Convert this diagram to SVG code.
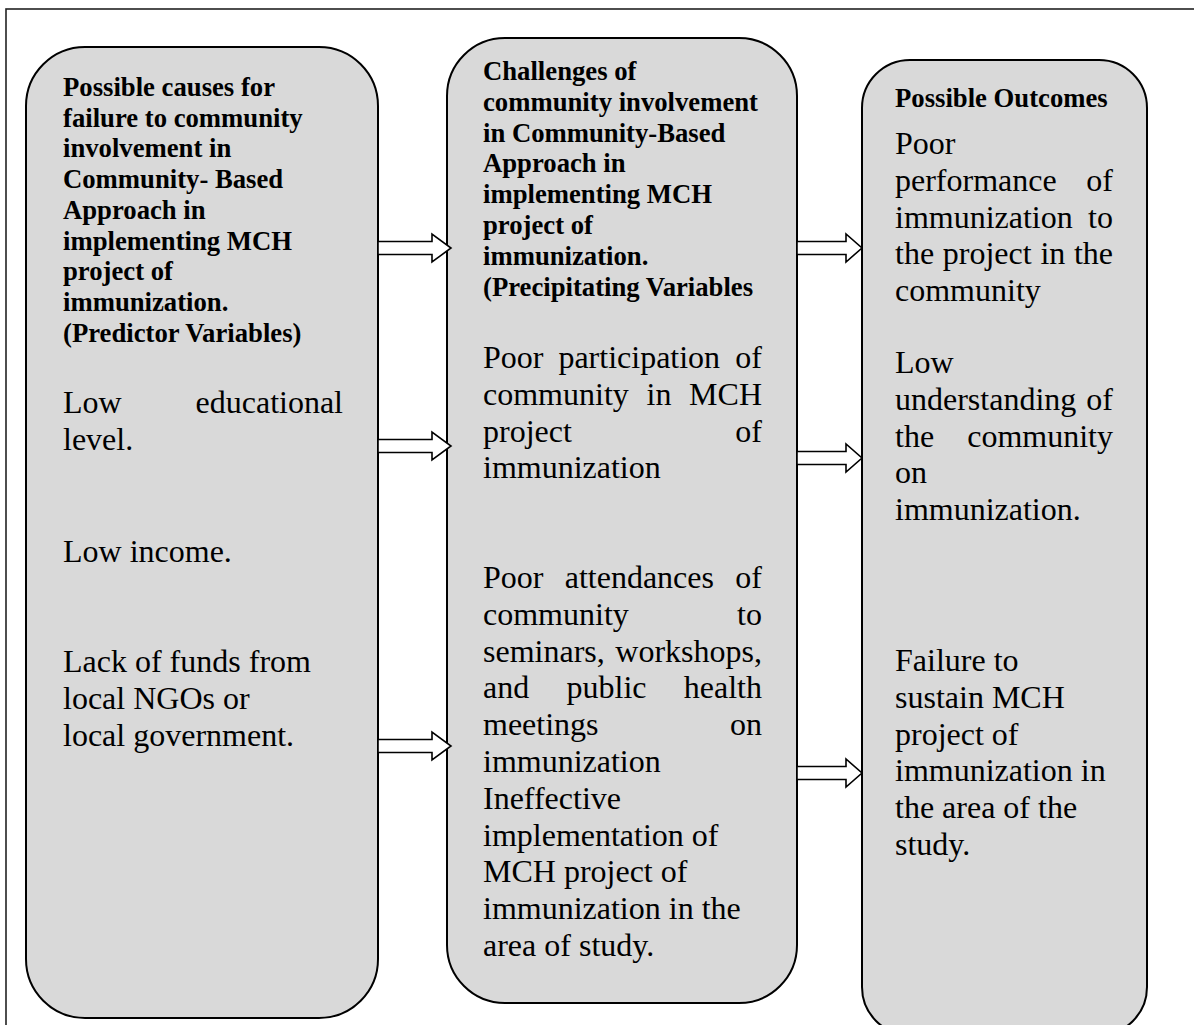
<svg xmlns="http://www.w3.org/2000/svg" width="1194" height="1025" viewBox="0 0 1194 1025">
<style>
.frame{fill:#ffffff;stroke:#222222;stroke-width:1.6}
.box{fill:#d9d9d9;stroke:#000000;stroke-width:2}
.arrow{fill:#ffffff;stroke:#000000;stroke-width:1.6;stroke-linejoin:miter}
text{font-family:"Liberation Serif","Times New Roman",serif;fill:#000000}
.h{font-size:26.7px;font-weight:bold}
.b{font-size:32px}
.e{text-anchor:end}
</style>
<rect class="frame" x="6" y="9" width="1210" height="1040"/>

<g id="node-causes">
<rect class="box" x="26" y="47" width="352" height="971" rx="59" ry="59"/>
<text class="h" x="63" y="96">Possible causes for</text>
<text class="h" x="63" y="126.7">failure to community</text>
<text class="h" x="63" y="157.4">involvement in</text>
<text class="h" x="63" y="188.1">Community- Based</text>
<text class="h" x="63" y="218.8">Approach in</text>
<text class="h" x="63" y="249.5">implementing MCH</text>
<text class="h" x="63" y="280.2">project of</text>
<text class="h" x="63" y="310.9">immunization.</text>
<text class="h" x="63" y="341.6">(Predictor Variables)</text>
<text class="b" x="63" y="413">Low</text>
<text class="b e" x="343" y="413">educational</text>
<text class="b" x="63" y="450">level.</text>
<text class="b" x="63" y="562">Low income.</text>
<text class="b" x="63" y="672">Lack of funds from</text>
<text class="b" x="63" y="709">local NGOs or</text>
<text class="b" x="63" y="746">local government.</text>
</g>

<g id="node-challenges">
<rect class="box" x="447" y="38" width="350" height="965" rx="58" ry="58"/>
<text class="h" x="483" y="80">Challenges of</text>
<text class="h" x="483" y="110.8">community involvement</text>
<text class="h" x="483" y="141.6">in Community-Based</text>
<text class="h" x="483" y="172.4">Approach in</text>
<text class="h" x="483" y="203.2">implementing MCH</text>
<text class="h" x="483" y="234">project of</text>
<text class="h" x="483" y="264.8">immunization.</text>
<text class="h" x="483" y="295.6">(Precipitating Variables</text>
<text class="b" x="483" y="368">Poor</text>
<text class="b" x="558.4" y="368">participation</text>
<text class="b e" x="762" y="368">of</text>
<text class="b" x="483" y="404.8">community</text>
<text class="b" x="646.5" y="404.8">in</text>
<text class="b e" x="762" y="404.8">MCH</text>
<text class="b" x="483" y="441.6">project</text>
<text class="b e" x="762" y="441.6">of</text>
<text class="b" x="483" y="478.4">immunization</text>
<text class="b" x="483" y="588">Poor</text>
<text class="b" x="564.7" y="588">attendances</text>
<text class="b e" x="762" y="588">of</text>
<text class="b" x="483" y="624.8">community</text>
<text class="b e" x="762" y="624.8">to</text>
<text class="b" x="483" y="661.6">seminars,</text>
<text class="b e" x="762" y="661.6">workshops,</text>
<text class="b" x="483" y="698.4">and</text>
<text class="b" x="566.5" y="698.4">public</text>
<text class="b e" x="762" y="698.4">health</text>
<text class="b" x="483" y="735.2">meetings</text>
<text class="b e" x="762" y="735.2">on</text>
<text class="b" x="483" y="772">immunization</text>
<text class="b" x="483" y="808.8">Ineffective</text>
<text class="b" x="483" y="845.6">implementation of</text>
<text class="b" x="483" y="882.4">MCH project of</text>
<text class="b" x="483" y="919.2">immunization in the</text>
<text class="b" x="483" y="956">area of study.</text>
</g>

<g id="node-outcomes">
<rect class="box" x="862" y="60" width="285" height="975" rx="48" ry="48"/>
<text class="h" x="895" y="107">Possible Outcomes</text>
<text class="b" x="895" y="154">Poor</text>
<text class="b" x="895" y="190.8">performance</text>
<text class="b e" x="1113" y="190.8">of</text>
<text class="b" x="895" y="227.6">immunization</text>
<text class="b e" x="1113" y="227.6">to</text>
<text class="b" x="895" y="264.4">the</text>
<text class="b" x="942.8" y="264.4">project</text>
<text class="b" x="1040.4" y="264.4">in</text>
<text class="b e" x="1113" y="264.4">the</text>
<text class="b" x="895" y="301.2">community</text>
<text class="b" x="895" y="373">Low</text>
<text class="b" x="895" y="409.8">understanding</text>
<text class="b e" x="1113" y="409.8">of</text>
<text class="b" x="895" y="446.6">the</text>
<text class="b e" x="1113" y="446.6">community</text>
<text class="b" x="895" y="483.4">on</text>
<text class="b" x="895" y="520.2">immunization.</text>
<text class="b" x="895" y="671">Failure to</text>
<text class="b" x="895" y="707.8">sustain MCH</text>
<text class="b" x="895" y="744.6">project of</text>
<text class="b" x="895" y="781.4">immunization in</text>
<text class="b" x="895" y="818.2">the area of the</text>
<text class="b" x="895" y="855">study.</text>
</g>

<g id="connectors">
<polygon class="arrow" points="378,241.5 432,241.5 432,234 451,248 432,262 432,254.5 378,254.5"/>
<polygon class="arrow" points="378,439.5 432,439.5 432,432 451,446 432,460 432,452.5 378,452.5"/>
<polygon class="arrow" points="378,739.5 432,739.5 432,732 451,746 432,760 432,752.5 378,752.5"/>
<polygon class="arrow" points="797,241.5 846,241.5 846,234 862,248 846,262 846,254.5 797,254.5"/>
<polygon class="arrow" points="797,451.5 846,451.5 846,444 862,458 846,472 846,464.5 797,464.5"/>
<polygon class="arrow" points="797,766.5 846,766.5 846,759 862,773 846,787 846,779.5 797,779.5"/>
</g>
</svg>
